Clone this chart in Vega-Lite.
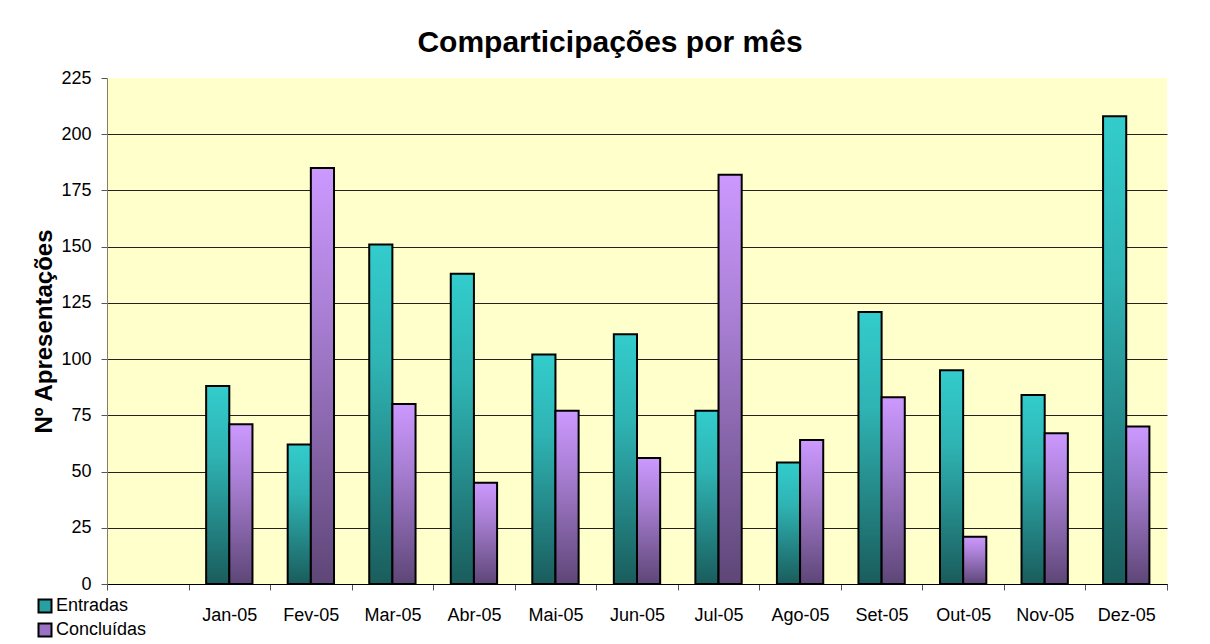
{
  "$schema": "https://vega.github.io/schema/vega-lite/v6.json",
  "width": 1060,
  "height": 506,
  "autosize": {"type": "none"},
  "padding": {"left": 107, "top": 78, "right": 43, "bottom": 60},
  "background": "white",
  "title": {
    "text": "Comparticipações por mês",
    "font": "Liberation Sans",
    "fontSize": 30,
    "fontWeight": "bold",
    "color": "black",
    "anchor": "middle",
    "frame": "group",
    "dx": -27,
    "offset": 11
  },
  "config": {
    "font": "Liberation Sans",
    "view": {"fill": "#FFFFCC", "stroke": null}
  },
  "data": {
    "values": [
      {"mes": "Jan-05", "serie": "Entradas", "valor": 88},
      {"mes": "Jan-05", "serie": "Concluídas", "valor": 71},
      {"mes": "Fev-05", "serie": "Entradas", "valor": 62},
      {"mes": "Fev-05", "serie": "Concluídas", "valor": 185},
      {"mes": "Mar-05", "serie": "Entradas", "valor": 151},
      {"mes": "Mar-05", "serie": "Concluídas", "valor": 80},
      {"mes": "Abr-05", "serie": "Entradas", "valor": 138},
      {"mes": "Abr-05", "serie": "Concluídas", "valor": 45},
      {"mes": "Mai-05", "serie": "Entradas", "valor": 102},
      {"mes": "Mai-05", "serie": "Concluídas", "valor": 77},
      {"mes": "Jun-05", "serie": "Entradas", "valor": 111},
      {"mes": "Jun-05", "serie": "Concluídas", "valor": 56},
      {"mes": "Jul-05", "serie": "Entradas", "valor": 77},
      {"mes": "Jul-05", "serie": "Concluídas", "valor": 182},
      {"mes": "Ago-05", "serie": "Entradas", "valor": 54},
      {"mes": "Ago-05", "serie": "Concluídas", "valor": 64},
      {"mes": "Set-05", "serie": "Entradas", "valor": 121},
      {"mes": "Set-05", "serie": "Concluídas", "valor": 83},
      {"mes": "Out-05", "serie": "Entradas", "valor": 95},
      {"mes": "Out-05", "serie": "Concluídas", "valor": 21},
      {"mes": "Nov-05", "serie": "Entradas", "valor": 84},
      {"mes": "Nov-05", "serie": "Concluídas", "valor": 67},
      {"mes": "Dez-05", "serie": "Entradas", "valor": 208},
      {"mes": "Dez-05", "serie": "Concluídas", "valor": 70}
    ]
  },
  "encoding": {
    "x": {
      "field": "mes",
      "type": "nominal",
      "sort": null,
      "scale": {
        "domain": ["", "Jan-05", "Fev-05", "Mar-05", "Abr-05", "Mai-05", "Jun-05", "Jul-05", "Ago-05", "Set-05", "Out-05", "Nov-05", "Dez-05"],
        "paddingInner": 0,
        "paddingOuter": 0
      },
      "axis": {
        "title": null,
        "labelAngle": 0,
        "labelFontSize": 18,
        "labelColor": "black",
        "labelPadding": 16,
        "tickBand": "extent",
        "tickSize": 6,
        "tickColor": "#555555",
        "domainColor": "black",
        "grid": false
      }
    },
    "xOffset": {
      "field": "serie",
      "type": "nominal",
      "scale": {"domain": ["Entradas", "Concluídas"], "paddingInner": 0, "paddingOuter": 0.76}
    },
    "y": {
      "field": "valor",
      "type": "quantitative",
      "scale": {"domain": [0, 225], "nice": false},
      "axis": {
        "title": "Nº Apresentações",
        "titleFontSize": 24,
        "titleFontWeight": "bold",
        "titleColor": "black",
        "titlePadding": 4,
        "values": [0, 25, 50, 75, 100, 125, 150, 175, 200, 225],
        "labelFontSize": 18,
        "labelColor": "black",
        "labelPadding": 10,
        "tickSize": 6,
        "tickColor": "#555555",
        "domainColor": "#808066",
        "grid": true,
        "gridColor": "#222222",
        "gridWidth": 1,
        "gridOpacity": {"condition": {"test": "datum.value === 225", "value": 0}, "value": 1}
      }
    }
  },
  "layer": [
    {
      "mark": {"type": "bar"},
      "encoding": {
        "fill": {
          "field": "serie",
          "type": "nominal",
          "scale": {"domain": ["Entradas", "Concluídas"], "range": ["#26a0a0", "#9a72c4"]},
          "legend": {
            "title": null,
            "orient": "none",
            "legendX": -71,
            "legendY": 519,
            "symbolType": "square",
            "symbolSize": 169,
            "symbolStrokeColor": "black",
            "symbolStrokeWidth": 2,
            "labelFontSize": 18,
            "labelColor": "black",
            "labelOffset": 2,
            "rowPadding": 2,
            "padding": 0
          }
        }
      }
    },
    {
      "mark": {"type": "bar", "stroke": "black", "strokeWidth": 2},
      "encoding": {
        "fill": {
          "condition": {
            "test": "datum.serie === 'Entradas'",
            "value": {
              "gradient": "linear", "x1": 0, "y1": 0, "x2": 0, "y2": 1,
              "stops": [
                {"offset": 0, "color": "#33CCCC"},
                {"offset": 0.35, "color": "#2fb3b3"},
                {"offset": 1, "color": "#1a5c5c"}
              ]
            }
          },
          "value": {
            "gradient": "linear", "x1": 0, "y1": 0, "x2": 0, "y2": 1,
            "stops": [
              {"offset": 0, "color": "#CC99FF"},
              {"offset": 0.35, "color": "#a97fd4"},
              {"offset": 1, "color": "#5e4677"}
            ]
          }
        }
      }
    }
  ]
}
